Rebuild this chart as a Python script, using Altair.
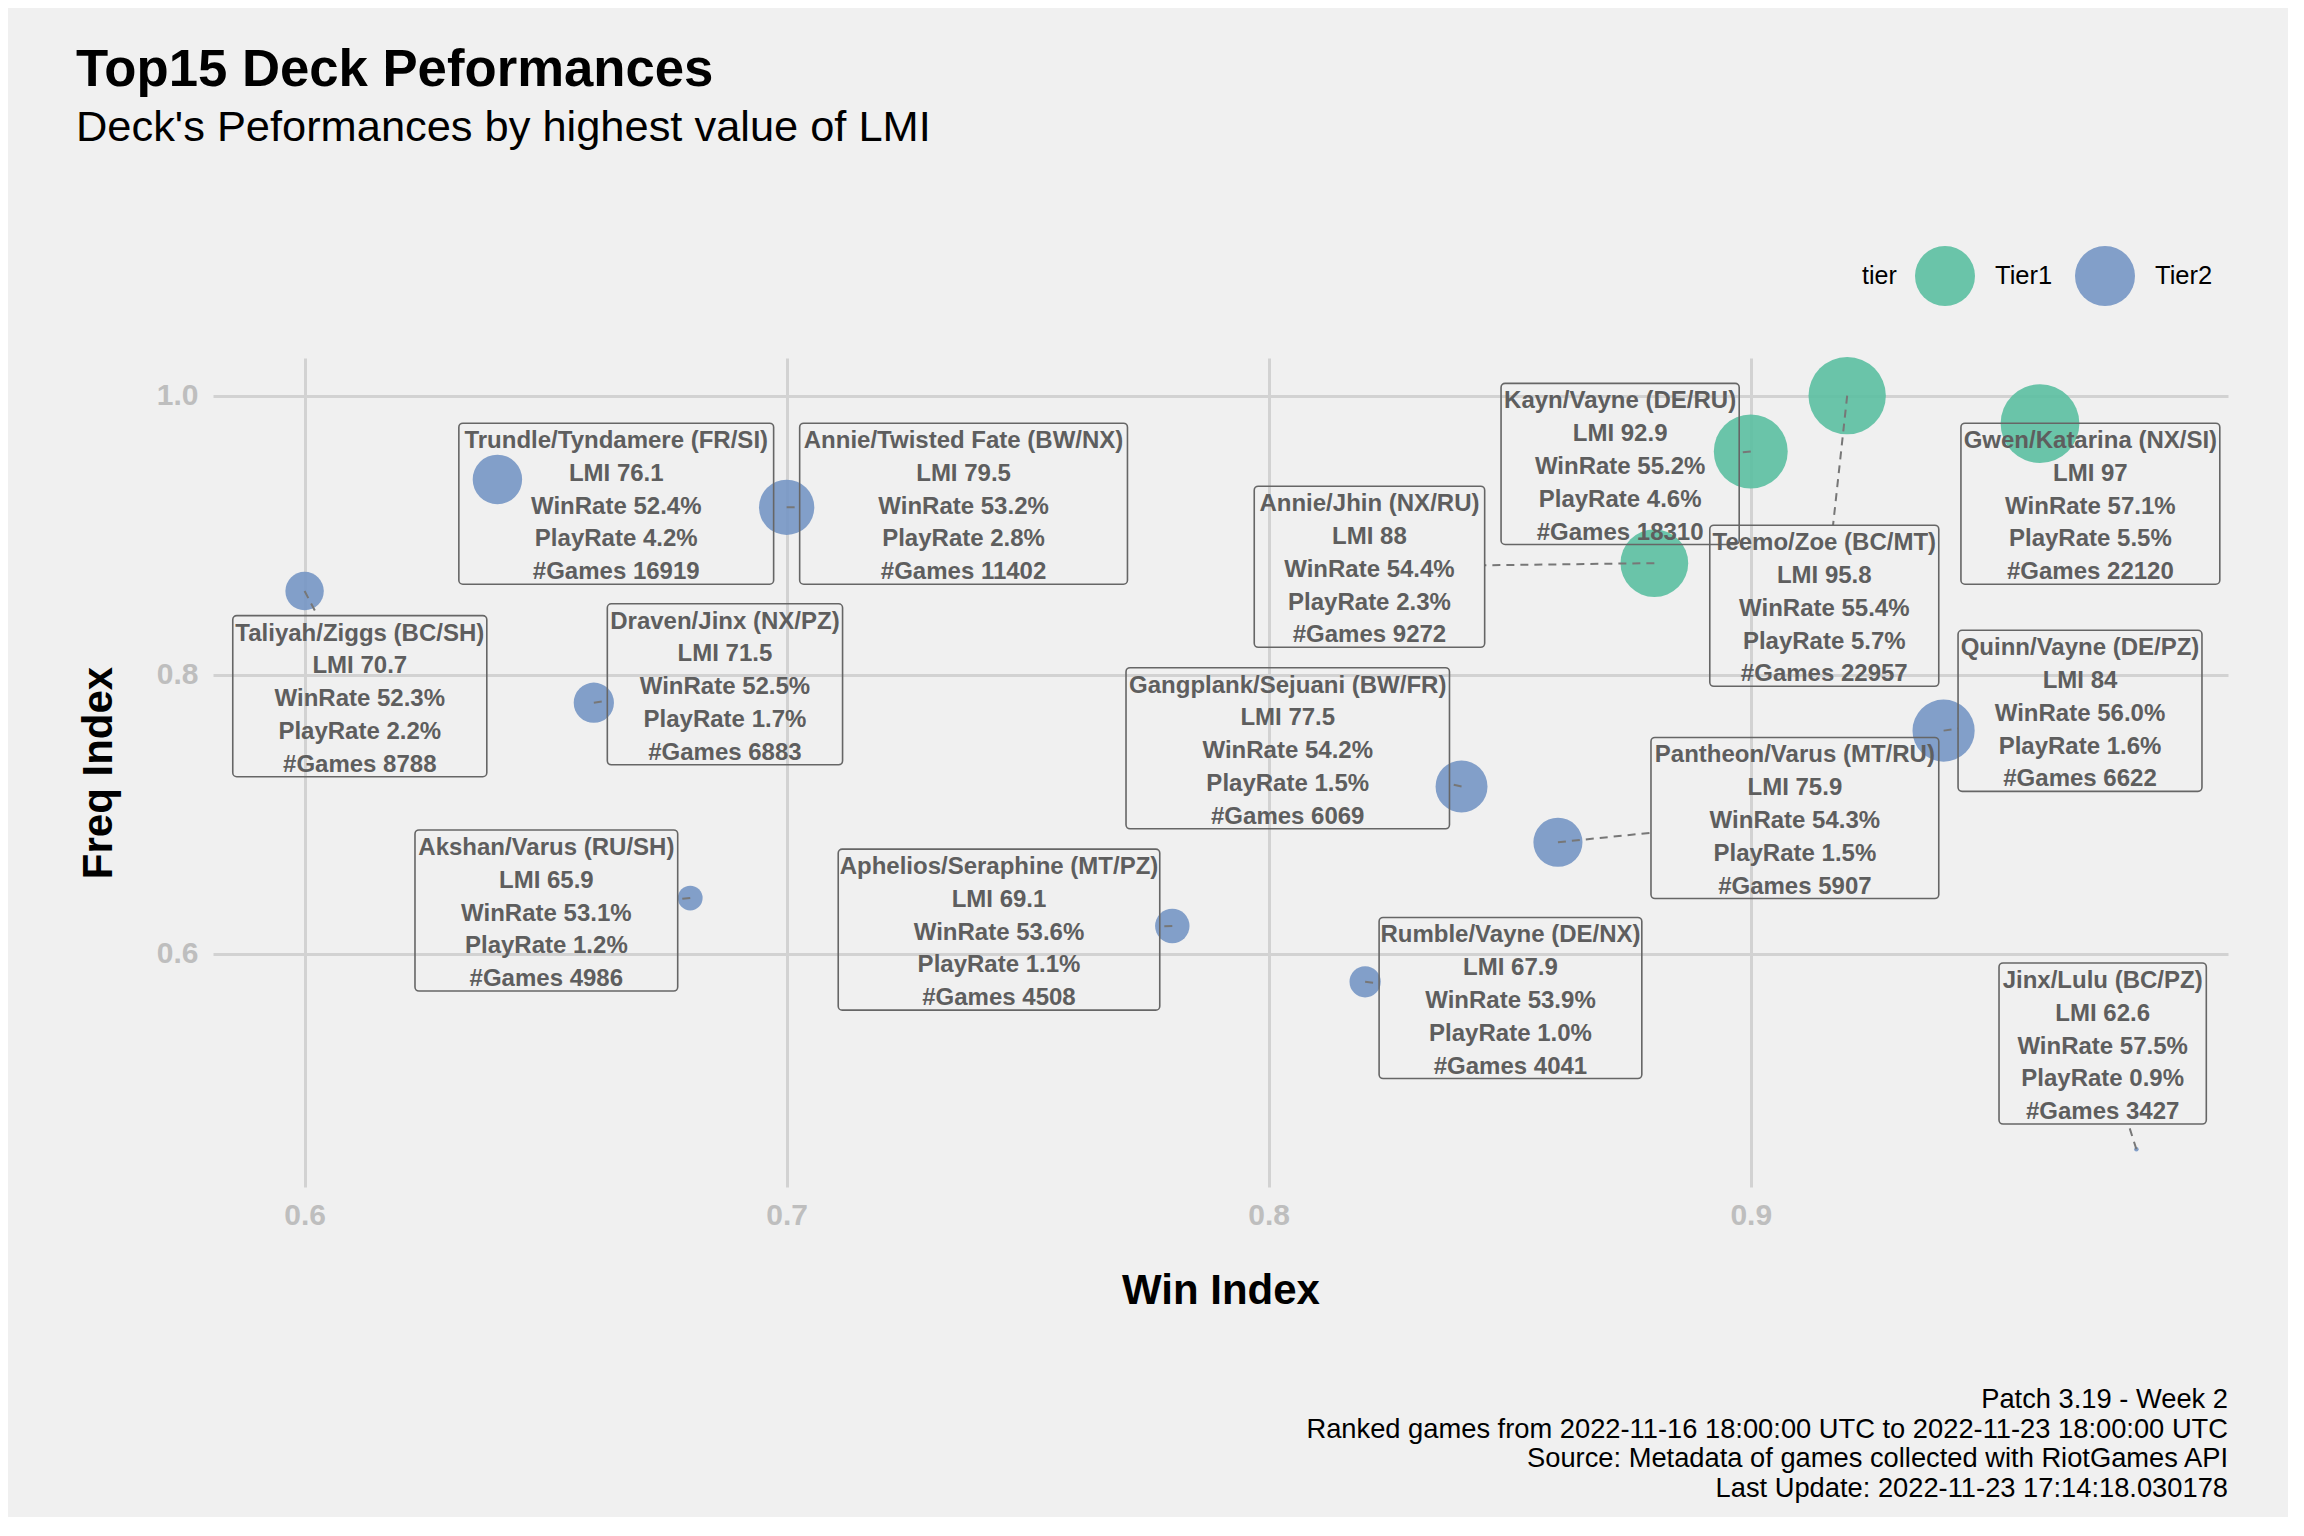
import altair as alt
import pandas as pd

# ---------------- data ----------------
decks = [
    "Taliyah/Ziggs (BC/SH)", "Trundle/Tyndamere (FR/SI)", "Draven/Jinx (NX/PZ)",
    "Akshan/Varus (RU/SH)", "Annie/Twisted Fate (BW/NX)", "Aphelios/Seraphine (MT/PZ)",
    "Rumble/Vayne (DE/NX)", "Gangplank/Sejuani (BW/FR)", "Pantheon/Varus (MT/RU)",
    "Annie/Jhin (NX/RU)", "Kayn/Vayne (DE/RU)", "Teemo/Zoe (BC/MT)",
    "Quinn/Vayne (DE/PZ)", "Gwen/Katarina (NX/SI)", "Jinx/Lulu (BC/PZ)",
]
tiers = ["Tier2", "Tier2", "Tier2", "Tier2", "Tier2", "Tier2", "Tier2", "Tier2",
         "Tier2", "Tier1", "Tier1", "Tier1", "Tier2", "Tier1", "Tier2"]
win_index = [0.60, 0.64, 0.66, 0.68, 0.70, 0.78, 0.82, 0.84, 0.86, 0.88, 0.90, 0.92, 0.94, 0.96, 0.98]
freq_index = [0.86, 0.94, 0.78, 0.64, 0.92, 0.62, 0.58, 0.72, 0.68, 0.88, 0.96, 1.00, 0.76, 0.98, 0.46]
lmi = [70.7, 76.1, 71.5, 65.9, 79.5, 69.1, 67.9, 77.5, 75.9, 88, 92.9, 95.8, 84, 97, 62.6]
win_rate = [52.3, 52.4, 52.5, 53.1, 53.2, 53.6, 53.9, 54.2, 54.3, 54.4, 55.2, 55.4, 56.0, 57.1, 57.5]
play_rate = [2.2, 4.2, 1.7, 1.2, 2.8, 1.1, 1.0, 1.5, 1.5, 2.3, 4.6, 5.7, 1.6, 5.5, 0.9]
games = [8788, 16919, 6883, 4986, 11402, 4508, 4041, 6069, 5907, 9272, 18310, 22957, 6622, 22120, 3427]

# label placement (repelled label boxes, in data units of the two axes)
lab_x0 = [0.5851, 0.6320, 0.6628, 0.6229, 0.7027, 0.7107, 0.8229, 0.7704, 0.8793,
          0.7970, 0.8482, 0.8915, 0.9430, 0.9436, 0.9515]
lab_x1 = [0.6378, 0.6973, 0.7116, 0.6774, 0.7707, 0.7774, 0.8774, 0.8375, 0.9390,
          0.8448, 0.8976, 0.9390, 0.9936, 0.9973, 0.9945]
lab_cy = [0.7847, 0.9226, 0.7932, 0.6311, 0.9226, 0.6174, 0.5684, 0.7474, 0.6974,
          0.8774, 0.9511, 0.8495, 0.7742, 0.9226, 0.5358]
lab_half_h = 0.0577

caption_lines = [
    "Patch 3.19 - Week 2",
    "Ranked games from 2022-11-16 18:00:00 UTC to 2022-11-23 18:00:00 UTC",
    "Source: Metadata of games collected with RiotGames API",
    "Last Update: 2022-11-23 17:14:18.030178",
]

# ---------------- tables ----------------
def fmt_lmi(v):
    return f"{v:g}"

rows = []
for i, d in enumerate(decks):
    y0 = lab_cy[i] - lab_half_h
    y1 = lab_cy[i] + lab_half_h
    rows.append(dict(
        deck=d, tier=tiers[i], win=win_index[i], freq=freq_index[i], lmi=lmi[i],
        x0=lab_x0[i], x1=lab_x1[i], y0=y0, y1=y1,
        cx=(lab_x0[i] + lab_x1[i]) / 2, cy=lab_cy[i],
        label="\n".join([d, f"LMI {fmt_lmi(lmi[i])}", f"WinRate {win_rate[i]:.1f}%",
                         f"PlayRate {play_rate[i]:.1f}%", f"#Games {games[i]}"]),
    ))
df = pd.DataFrame(rows)

seg_rows = []
for r in rows:
    px, py = r["win"], r["freq"]
    x0, x1, y0, y1 = r["x0"], r["x1"], r["y0"], r["y1"]
    if x0 <= px <= x1 and y0 <= py <= y1:
        continue
    dx, dy = r["cx"] - px, r["cy"] - py
    t = 0.0
    if px < x0:
        t = max(t, (x0 - px) / dx)
    elif px > x1:
        t = max(t, (x1 - px) / dx)
    if py < y0:
        t = max(t, (y0 - py) / dy)
    elif py > y1:
        t = max(t, (y1 - py) / dy)
    seg_rows.append(dict(px=px, py=py, ex=px + t * dx, ey=py + t * dy))
seg_df = pd.DataFrame(seg_rows)

# ---------------- chart ----------------
W, H = 2015, 829
FONT = "Liberation Sans"
LINE_H = 32.8

xs = alt.Scale(domain=[0.581, 0.999], nice=False, zero=False)
ys = alt.Scale(domain=[0.433, 1.027], nice=False, zero=False)
xaxis = alt.Axis(values=[0.6, 0.7, 0.8, 0.9], format=".1f", labelPadding=13, titlePadding=40)
yaxis = alt.Axis(values=[0.6, 0.8, 1.0], format=".1f", labelPadding=15, titlePadding=36)


def X(field):
    return alt.X(f"{field}:Q", scale=xs, axis=xaxis, title="Win Index")


def Y(field):
    return alt.Y(f"{field}:Q", scale=ys, axis=yaxis, title="Freq Index")


points = alt.Chart(df).mark_circle(opacity=0.9).encode(
    x=X("win"),
    y=Y("freq"),
    size=alt.Size("lmi:Q", scale=alt.Scale(domain=[62.6, 97], range=[20, 6200]), legend=None),
    color=alt.Color(
        "tier:N",
        scale=alt.Scale(domain=["Tier1", "Tier2"], range=["#5BBFA1", "#7596C4"]),
        legend=alt.Legend(
            title="tier", orient="none", legendX=1649, legendY=-112,
            direction="horizontal", titleOrient="left", titleAnchor="middle",
            titleBaseline="middle", titlePadding=18, titleFontSize=25,
            titleFontWeight="normal", titleColor="black", titleFont=FONT,
            labelFontSize=25.5, labelColor="black", labelFont=FONT, labelOffset=20,
            columnPadding=22, symbolType="circle", symbolSize=3600,
            symbolStrokeWidth=0, symbolOpacity=0.9,
        ),
    ),
)

segs = alt.Chart(seg_df).mark_rule(color="#777777", strokeWidth=2, strokeDash=[8, 6]).encode(
    x=X("px"), y=Y("py"), x2="ex:Q", y2="ey:Q",
)

boxes = alt.Chart(df).mark_rect(
    fillOpacity=0, stroke="#666666", strokeWidth=1.6, cornerRadius=4,
).encode(
    x=X("x0"), x2="x1:Q", y=Y("y0"), y2="y1:Q",
)

texts = alt.Chart(df).mark_text(
    font=FONT, fontSize=24, fontWeight="bold", color="#5E5E5E",
    align="center", baseline="middle", lineBreak="\n", lineHeight=LINE_H,
    dy=-2 * LINE_H + 3,
).encode(
    x=X("cx"), y=Y("cy"), text="label:N",
)

caption = alt.Chart(pd.DataFrame({"c": ["\n".join(caption_lines)]})).mark_text(
    font=FONT, fontSize=27.3, color="black", align="right", baseline="alphabetic",
    lineBreak="\n", lineHeight=29.7,
).encode(
    x=alt.value(W), y=alt.value(1050), text="c:N",
)

chart = alt.layer(points, segs, boxes, texts, caption).properties(
    width=W, height=H,
    title=alt.TitleParams(
        text="Top15 Deck Peformances",
        subtitle="Deck's Peformances by highest value of LMI",
        anchor="start", frame="group", font=FONT, fontSize=52.7, fontWeight="bold",
        color="black", subtitleFont=FONT, subtitleFontSize=43.4,
        subtitleColor="black", subtitleFontWeight="normal", subtitlePadding=10,
        dx=-137, offset=97,
    ),
    autosize=alt.AutoSizeParams(type="none"),
    padding={"left": 205, "top": 350, "right": 60, "bottom": 330},
).configure(
    background="#F0F0F0",
).configure_view(
    strokeWidth=0,
).configure_axis(
    grid=True, gridColor="#D2D2D2", gridWidth=3, domain=False, ticks=False, tickSize=0,
    labelColor="#BEBEBE", labelFont=FONT, labelFontWeight="bold", labelFontSize=30,
    titleFont=FONT, titleFontSize=42, titleFontWeight="bold", titleColor="black",
)

chart.save("out.html", embed_options={"renderer": "svg", "actions": False})
